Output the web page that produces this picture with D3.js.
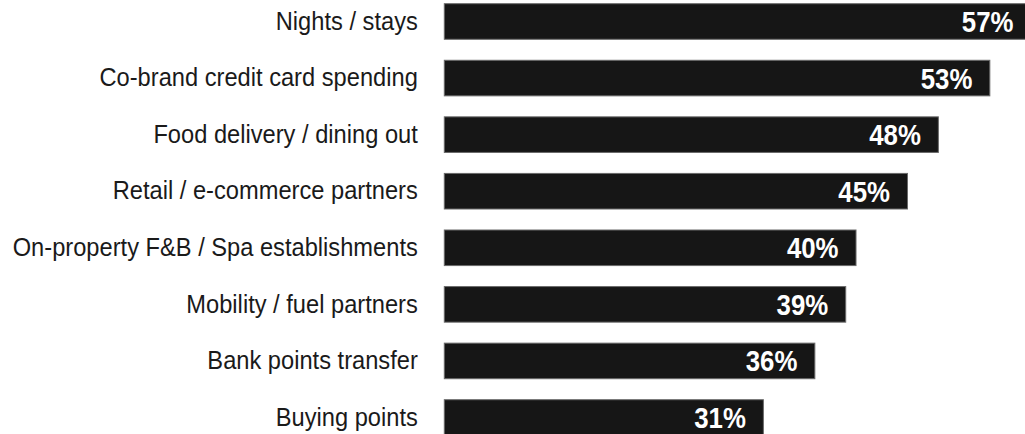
<!DOCTYPE html>
<html>
<head>
<meta charset="utf-8">
<script src="https://cdn.jsdelivr.net/npm/d3@7"></script>
<style>
  html, body { margin: 0; padding: 0; background: #ffffff; overflow: hidden; }
  svg { display: block; }
  text { font-family: "Liberation Sans", Arial, sans-serif; }
</style>
</head>
<body>
<svg id="chart" width="1025" height="434"></svg>
<script>
// Redemption channels and share of respondents (%)
const categories = [
  "Nights / stays",
  "Co-brand credit card spending",
  "Food delivery / dining out",
  "Retail / e-commerce partners",
  "On-property F&B / Spa establishments",
  "Mobility / fuel partners",
  "Bank points transfer",
  "Buying points"
];
const values = [57, 53, 48, 45, 40, 39, 36, 31];
const valueLabels = values.map(v => v + "%");

// narrow-type look: horizontal squeeze applied to text
const labelSqueeze = 0.925;
const valueSqueeze = 0.89;

const svg = d3.select("#chart");

const x = d3.scaleLinear()
  .domain([0, 57])
  .range([444.3, 1031]);

const y = d3.scaleBand()
  .domain(categories)
  .range([3.7, 435.3])
  .paddingInner(0.371)
  .paddingOuter(0);

// bars
svg.append("g")
  .selectAll("rect")
  .data(values)
  .join("rect")
  .attr("x", x(0))
  .attr("y", (d, i) => y(categories[i]))
  .attr("width", d => x(d) - x(0))
  .attr("height", y.bandwidth())
  .attr("fill", "#161616")
  .attr("stroke", "#6a6a6a")
  .attr("stroke-width", 1);

// category axis labels
const tickPad = 26.5;
const yAxis = d3.axisLeft(y).tickSize(0).tickPadding(tickPad);
const axisG = svg.append("g")
  .attr("transform", `translate(${x(0)},0)`)
  .call(yAxis);
axisG.select(".domain").remove();
axisG.selectAll("text")
  .attr("font-family", null)
  .attr("x", -tickPad / labelSqueeze)
  .attr("transform", `scale(${labelSqueeze},1)`)
  .style("font-size", "25.6px")
  .attr("fill", "#1a1a1a");

// value labels inside bar ends
svg.append("g")
  .selectAll("text")
  .data(values)
  .join("text")
  .attr("transform", (d, i) =>
    `translate(${x(d) - 17.5},${y(categories[i]) + y.bandwidth() / 2}) scale(${valueSqueeze},1)`)
  .attr("dy", "0.36em")
  .attr("text-anchor", "end")
  .attr("fill", "#ffffff")
  .style("font-size", "29px")
  .style("font-weight", "bold")
  .text((d, i) => valueLabels[i]);
</script>
</body>
</html>
